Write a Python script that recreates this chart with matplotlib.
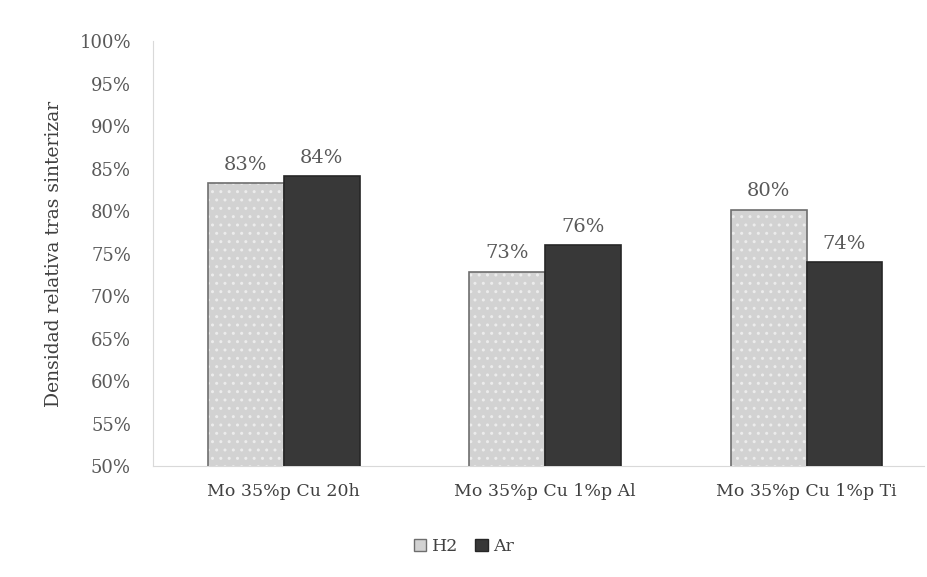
import matplotlib.pyplot as plt
import numpy as np
from matplotlib.patches import Patch

# datos
categorias = ['Mo 35%p Cu 20h', 'Mo 35%p Cu 1%p Al', 'Mo 35%p Cu 1%p Ti']
h2 = [0.833, 0.729, 0.802]
ar = [0.841, 0.760, 0.740]
etiquetas_h2 = ['83%', '73%', '80%']
etiquetas_ar = ['84%', '76%', '74%']
yticks = [0.50, 0.55, 0.60, 0.65, 0.70, 0.75, 0.80, 0.85, 0.90, 0.95, 1.00]

plt.rcParams['font.family'] = ['DejaVu Serif']
gris_texto = '#595959'

fig = plt.figure(figsize=(9.28, 5.77), dpi=100)
ax = fig.add_axes([0.165, 0.192, 0.831, 0.7366])

x = np.arange(len(categorias))
ancho = 0.29

# H2: relleno gris con puntos blancos, luego el borde
ax.bar(x - ancho/2, h2, ancho, color='#d2d2d2', hatch='..',
       edgecolor='#ececec', linewidth=0, zorder=2)
ax.bar(x - ancho/2, h2, ancho, color='none', edgecolor='#6e6e6e',
       linewidth=1.2, zorder=3)
ax.bar(x + ancho/2, ar, ancho, color='#383838', edgecolor='#262626',
       linewidth=1.2, zorder=3)

for xi, v, t in zip(x, h2, etiquetas_h2):
    ax.text(xi - ancho/2, v + 0.011, t, ha='center', va='bottom',
            fontsize=14, color=gris_texto)
for xi, v, t in zip(x, ar, etiquetas_ar):
    ax.text(xi + ancho/2, v + 0.011, t, ha='center', va='bottom',
            fontsize=14, color=gris_texto)

ax.set_ylim(0.5, 1.0)
ax.set_xlim(-0.5, 2.45)
ax.set_yticks(yticks)
ax.set_yticklabels([f'{int(round(t*100))}%' for t in yticks],
                   fontsize=13, color=gris_texto)
ax.set_xticks(x)
ax.set_xticklabels(categorias, fontsize=12.5, color='#404040')
ax.tick_params(axis='y', length=0, pad=16)
ax.tick_params(axis='x', length=0, pad=12)
ax.set_ylabel('Densidad relativa tras sinterizar', fontsize=13.5,
              color='#404040', labelpad=12)

for lado in ['top', 'right']:
    ax.spines[lado].set_visible(False)
ax.spines['left'].set_color('#d9d9d9')
ax.spines['bottom'].set_color('#d9d9d9')

manejadores = [Patch(facecolor='#d2d2d2', edgecolor='#6e6e6e', label='H2'),
               Patch(facecolor='#383838', edgecolor='#262626', label='Ar')]
fig.legend(handles=manejadores, loc='center', bbox_to_anchor=(0.5, 0.052),
           ncol=2, frameon=False, fontsize=12.5, handlelength=0.7,
           handleheight=0.7, handletextpad=0.3, columnspacing=1.0,
           labelcolor='#404040')

fig.savefig('out.png', dpi=100, facecolor='white')
